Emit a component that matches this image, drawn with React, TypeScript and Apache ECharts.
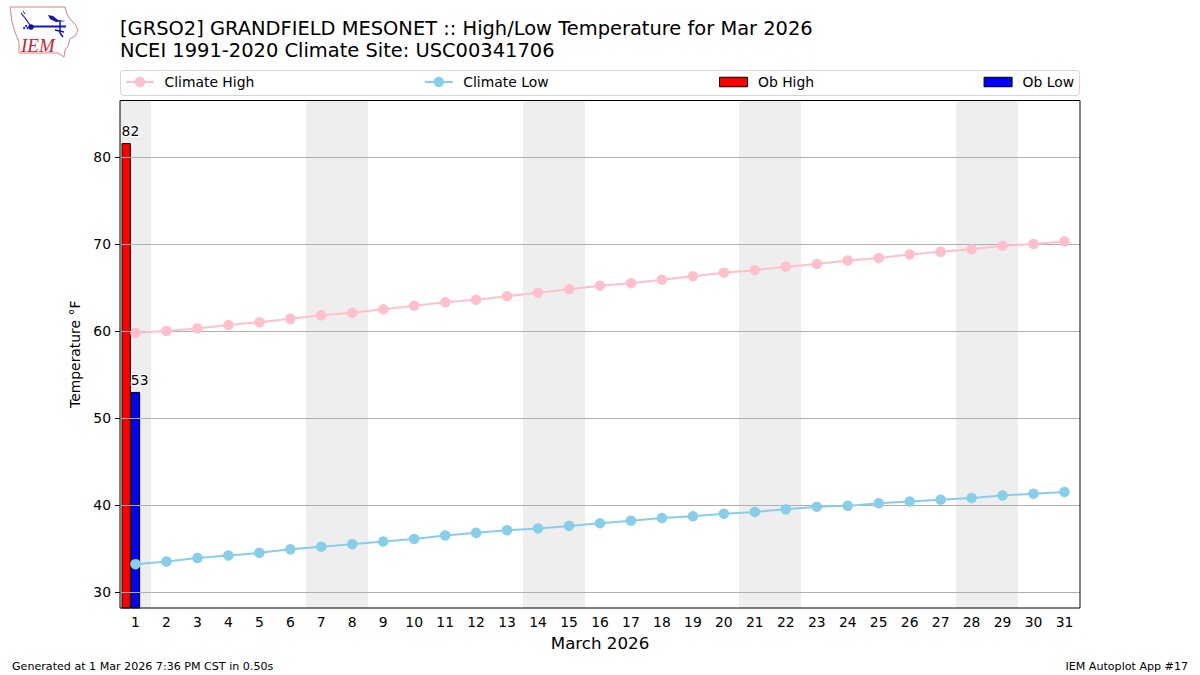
import React, { useEffect, useRef } from "react";
import * as echarts from "echarts";

const days = Array.from({ length: 31 }, (_, i) => String(i + 1));
const climateHigh = [59.8,60,60.3,60.7,61,61.4,61.8,62.1,62.5,62.9,63.3,63.6,64,64.4,64.8,65.2,65.5,65.9,66.3,66.7,67,67.4,67.7,68.1,68.4,68.8,69.1,69.4,69.8,70,70.3];
const climateLow = [33.2,33.5,33.9,34.2,34.5,34.9,35.2,35.5,35.8,36.1,36.5,36.8,37.1,37.3,37.6,37.9,38.2,38.5,38.7,39,39.2,39.5,39.8,39.9,40.2,40.4,40.6,40.8,41.1,41.3,41.5];
const obHigh: (number | null)[] = [81.6];
const obLow: (number | null)[] = [53];
const weekendDays = [1, 7, 8, 14, 15, 21, 22, 28, 29];
const yTicks = [30, 40, 50, 60, 70, 80];
const FONT = "'DejaVu Sans'";

const iowa: number[][] = [[10,7],[65,7],[67,14],[70,19],[75,24],[78,30],[75,36],[70,39],[68,46],[65,50],[64,57],[58,53],[19,53],[19,42],[15,32],[12,22],[11,14]];

const legendBase = {
  top: 75, padding: 0, itemGap: 169.5, itemWidth: 28, selectedMode: false,
  textStyle: { fontFamily: FONT, fontSize: 13.9, color: "#000", padding: [0, 0, 0, 5.5] },
};

export default function App() {
  const ref = useRef<HTMLDivElement>(null);
  useEffect(() => {
    const chart = echarts.init(ref.current!, undefined, { renderer: "svg" });
    chart.setOption({
      animation: false,
      backgroundColor: "#fff",
      textStyle: { fontFamily: FONT },
      title: [
        { text: "[GRSO2] GRANDFIELD MESONET :: High/Low Temperature for Mar 2026\nNCEI 1991-2020 Climate Site: USC00341706", left: 120, top: 18, padding: 0,
          textStyle: { fontFamily: FONT, fontSize: 19.45, fontWeight: "normal", color: "#000", lineHeight: 21.5 } },
        { text: "Generated at 1 Mar 2026 7:36 PM CST in 0.50s", left: 12, top: 661, padding: 0,
          textStyle: { fontFamily: FONT, fontSize: 11.1, fontWeight: "normal", color: "#000" } },
        { text: "IEM Autoplot App #17", right: 12, top: 661, padding: 0,
          textStyle: { fontFamily: FONT, fontSize: 11.1, fontWeight: "normal", color: "#000" } },
      ],
      legend: [
        { ...legendBase, left: 125, itemHeight: 13, data: [{ name: "Climate High" }, { name: "Climate Low" }] },
        { ...legendBase, left: 719, itemHeight: 9.5, data: [
          { name: "Ob High", icon: "rect", itemStyle: { color: "#f00", borderColor: "#000", borderWidth: 1 } },
          { name: "Ob Low", icon: "rect", itemStyle: { color: "#00f", borderColor: "#000", borderWidth: 1 } },
        ] },
      ],
      grid: { left: 120, right: 120, top: 100.5, height: 507.5, show: true, borderColor: "#000", borderWidth: 1, backgroundColor: "transparent", z: 5 },
      xAxis: {
        type: "category", data: days, boundaryGap: true,
        name: "March 2026", nameLocation: "middle", nameGap: 27,
        nameTextStyle: { fontFamily: FONT, fontSize: 16.66, color: "#000" },
        axisLine: { show: false },
        axisTick: { alignWithLabel: true, length: 5, lineStyle: { color: "#000" } },
        axisLabel: { interval: 0, fontFamily: FONT, fontSize: 13.9, color: "#000", margin: 7 },
        splitLine: { show: false },
      },
      yAxis: {
        type: "value", min: 28.16, max: 86.5,
        name: "Temperature °F", nameLocation: "middle", nameGap: 35,
        nameTextStyle: { fontFamily: FONT, fontSize: 13.9, color: "#000" },
        z: 3,
        axisLine: { show: false },
        axisTick: { show: true, length: 5, lineStyle: { color: "#000" }, customValues: yTicks },
        axisLabel: { fontFamily: FONT, fontSize: 13.9, color: "#000", margin: 9, customValues: yTicks },
        splitLine: { show: true, lineStyle: { color: "#b0b0b0", width: 1 } },
      },
      series: [
        {
          type: "custom", name: "Weekend", z: 0, silent: true, clip: true,
          data: weekendDays.map((d) => [d - 1]),
          encode: { x: 0 },
          renderItem: (_p: any, api: any) => {
            const i = api.value(0);
            const w = api.size([1, 0])[0];
            const top = api.coord([i, 86.5]);
            const bottom = api.coord([i, 28.16]);
            const x0 = Math.round(top[0] - w / 2);
            const x1 = Math.round(top[0] + w / 2);
            return { type: "rect", shape: { x: x0, y: top[1], width: x1 - x0, height: bottom[1] - top[1] }, style: { fill: "#eeeeee" } };
          },
        },
        {
          type: "bar", name: "Ob High", data: obHigh, barWidth: "30%", barGap: 0, z: 2,
          itemStyle: { color: "#f00", borderColor: "#000", borderWidth: 1 },
          label: { show: true, position: [0, -19], align: "left", fontFamily: FONT, fontSize: 13.9, color: "#000", textBorderColor: "#fff", textBorderWidth: 2,
            formatter: (p: any) => String(Math.round(p.value)) },
        },
        {
          type: "bar", name: "Ob Low", data: obLow, barWidth: "30%", barGap: 0, z: 2,
          itemStyle: { color: "#00f", borderColor: "#000", borderWidth: 1 },
          label: { show: true, position: [0, -19], align: "left", fontFamily: FONT, fontSize: 13.9, color: "#000", textBorderColor: "#fff", textBorderWidth: 2,
            formatter: (p: any) => String(Math.round(p.value)) },
        },
        { type: "bar", name: "spacer", data: [], barWidth: "30%", barGap: 0, silent: true },
        {
          type: "line", name: "Climate High", data: climateHigh, z: 4, symbol: "circle", symbolSize: 10.5,
          itemStyle: { color: "#ffc0cb" }, lineStyle: { color: "#ffc0cb", width: 2 },
        },
        {
          type: "line", name: "Climate Low", data: climateLow, z: 4, symbol: "circle", symbolSize: 10.5,
          itemStyle: { color: "#87ceeb" }, lineStyle: { color: "#87ceeb", width: 2 },
        },
      ],
      graphic: [
        { type: "rect", shape: { x: 120.5, y: 70.5, width: 959, height: 25, r: 3 }, style: { fill: "none", stroke: "#d5d5d5", lineWidth: 1 }, z: -1 },
        { type: "polygon", shape: { points: iowa }, style: { fill: "#fff", stroke: "#e08080", lineWidth: 1 } },
        { type: "line", shape: { x1: 31, y1: 26.5, x2: 66, y2: 26.5 }, style: { stroke: "#1010e0", lineWidth: 2 } },
        { type: "circle", shape: { cx: 31, cy: 27, r: 2.8 }, style: { fill: "#1010b0" } },
        { type: "polygon", shape: { points: [[48,15],[53,16],[58,20],[66,21],[56,22],[50,19]] }, style: { fill: "#1010c0" } },
        { type: "polyline", shape: { points: [[21,13],[25,18],[30,25]] }, style: { stroke: "#1010e0", lineWidth: 1.2, fill: "none" } },
        { type: "polyline", shape: { points: [[23,11],[25,14]] }, style: { stroke: "#1010e0", lineWidth: 1, fill: "none" } },
        { type: "polyline", shape: { points: [[60,21],[60,33],[63,37]] }, style: { stroke: "#1010e0", lineWidth: 1.5, fill: "none" } },
        { type: "polyline", shape: { points: [[55,30],[64,32]] }, style: { stroke: "#1010e0", lineWidth: 1.5, fill: "none" } },
        { type: "circle", shape: { cx: 24, cy: 28, r: 1 }, style: { fill: "#1010c0" } },
        { type: "circle", shape: { cx: 26, cy: 26, r: 1 }, style: { fill: "#1010c0" } },
        { type: "circle", shape: { cx: 27.5, cy: 28, r: 1 }, style: { fill: "#1010c0" } },
        { type: "text", x: 21, y: 36, style: { text: "IEM", fontFamily: "'Liberation Serif'", fontStyle: "italic", fontSize: 19, fill: "#d02030" } },
      ],
    });
    return () => chart.dispose();
  }, []);
  return <div ref={ref} style={{ position: "fixed", left: 0, top: 0, width: 1200, height: 675 }} />;
}
